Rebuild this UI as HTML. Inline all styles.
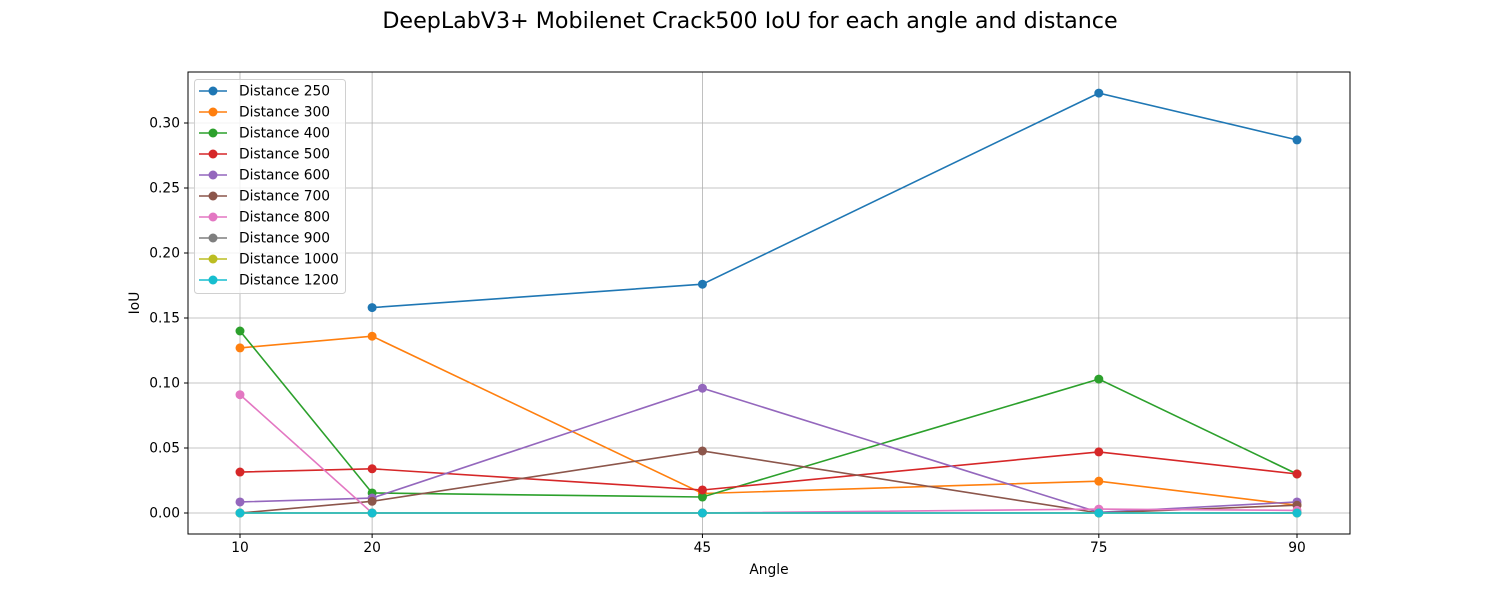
<!DOCTYPE html>
<html><head><meta charset="utf-8"><style>
body{margin:0;background:#fff;font-family:"DejaVu Sans","Liberation Sans",sans-serif;}
</style></head><body>
<svg id="chart" width="1500" height="600" xmlns="http://www.w3.org/2000/svg" font-family="DejaVu Sans, Liberation Sans, sans-serif">
<rect width="1500" height="600" fill="#fff"/>
<text x="750" y="28" text-anchor="middle" font-size="22.2">DeepLabV3+ Mobilenet Crack500 IoU for each angle and distance</text>
<g id="grid"></g><g id="axes"></g><g id="series"></g><g id="legend"></g>
</svg>
<script>
const angles=[10,20,45,75,90];
const seriesNames=["Distance 250","Distance 300","Distance 400","Distance 500","Distance 600","Distance 700","Distance 800","Distance 900","Distance 1000","Distance 1200"];
const d250=[null,0.158,0.176,0.323,0.287];
const d300=[0.127,0.136,0.015,0.0245,0.006];
const d400=[0.140,0.0154,0.0123,0.103,0.030];
const d500=[0.0315,0.034,0.0177,0.047,0.030];
const d600=[0.0085,0.0115,0.096,0.0005,0.0085];
const d700=[0.0,0.009,0.0477,0.0,0.006];
const d800=[0.091,0.0,0.0,0.003,0.002];
const d900=[0,0,0,0,0];
const d1000=[0,0,0,0,0];
const d1200=[0,0,0,0,0];
const yTicks=[0,0.05,0.10,0.15,0.20,0.25,0.30];
const yTickLabels=["0.00","0.05","0.10","0.15","0.20","0.25","0.30"];
const colors=["#1f77b4","#ff7f0e","#2ca02c","#d62728","#9467bd","#8c564b","#e377c2","#7f7f7f","#bcbd22","#17becf"];
const allSeries=[d250,d300,d400,d500,d600,d700,d800,d900,d1000,d1200];
const L=188,R=1350,T=72,B=534;
const FS=13.8;
const X=v=>240+(v-10)*(1057/80);
const Y=v=>513-v*1300;
const NS="http://www.w3.org/2000/svg";
function mk(tag,attrs,parent,txt){const e=document.createElementNS(NS,tag);for(const k in attrs)e.setAttribute(k,attrs[k]);if(txt!=null)e.textContent=txt;parent.appendChild(e);return e;}
const grid=document.getElementById('grid'),axes=document.getElementById('axes'),ser=document.getElementById('series'),leg=document.getElementById('legend');
angles.forEach(a=>{
 const g=mk('line',{x1:X(a),x2:X(a),y1:T,y2:B,stroke:'#b0b0b0','stroke-width':0.8},grid);
 
 
 mk('line',{x1:X(a),x2:X(a),y1:B,y2:B+4,stroke:'#000'},axes);
 const t=mk('text',{x:X(a),y:B+18,'text-anchor':'middle','font-size':FS},axes,String(a));
 
 
});
yTicks.forEach((v,i)=>{
 const g=mk('line',{x1:L,x2:R,y1:Y(v),y2:Y(v),stroke:'#b0b0b0','stroke-width':0.8},grid);
 
 
 mk('line',{x1:L-4,x2:L,y1:Y(v),y2:Y(v),stroke:'#000'},axes);
 const t=mk('text',{x:L-8,y:Y(v)+4.5,'text-anchor':'end','font-size':FS},axes,yTickLabels[i]);
 
 
});
const frame=mk('rect',{x:L,y:T,width:R-L,height:B-T,fill:'none',stroke:'#000','stroke-width':1},axes);


const xt=mk('text',{x:(L+R)/2,y:574,'text-anchor':'middle','font-size':FS},axes,'Angle');


const yt=mk('text',{x:139,y:(T+B)/2,'text-anchor':'middle','font-size':FS,transform:`rotate(-90 139 ${(T+B)/2})`},axes,'IoU');


allSeries.forEach((s,si)=>{
 const g=mk('g',{},ser);
 
 
 let pts=[];
 s.forEach((v,i)=>{if(v!=null)pts.push(X(angles[i])+','+Y(v));});
 mk('polyline',{points:pts.join(' '),fill:'none',stroke:colors[si],'stroke-width':1.6},g);
 s.forEach((v,i)=>{if(v==null)return;
  const c=mk('circle',{cx:X(angles[i]),cy:Y(v),r:4.5,fill:colors[si]},g);
  
  
 });
});
const lb=mk('rect',{x:194.5,y:79.5,width:151,height:214,rx:3,fill:'#fff','fill-opacity':0.8,stroke:'#d0d0d0'},leg);


seriesNames.forEach((n,i)=>{
 const y=91+i*21;
 const g=mk('g',{},leg);
 
 
 mk('line',{x1:199,x2:227,y1:y,y2:y,stroke:colors[i],'stroke-width':1.6},g);
 mk('circle',{cx:213,cy:y,r:4.5,fill:colors[i]},g);
 mk('text',{x:239,y:y+4.5,'font-size':FS},g,n);
});
</script>
</body></html>
